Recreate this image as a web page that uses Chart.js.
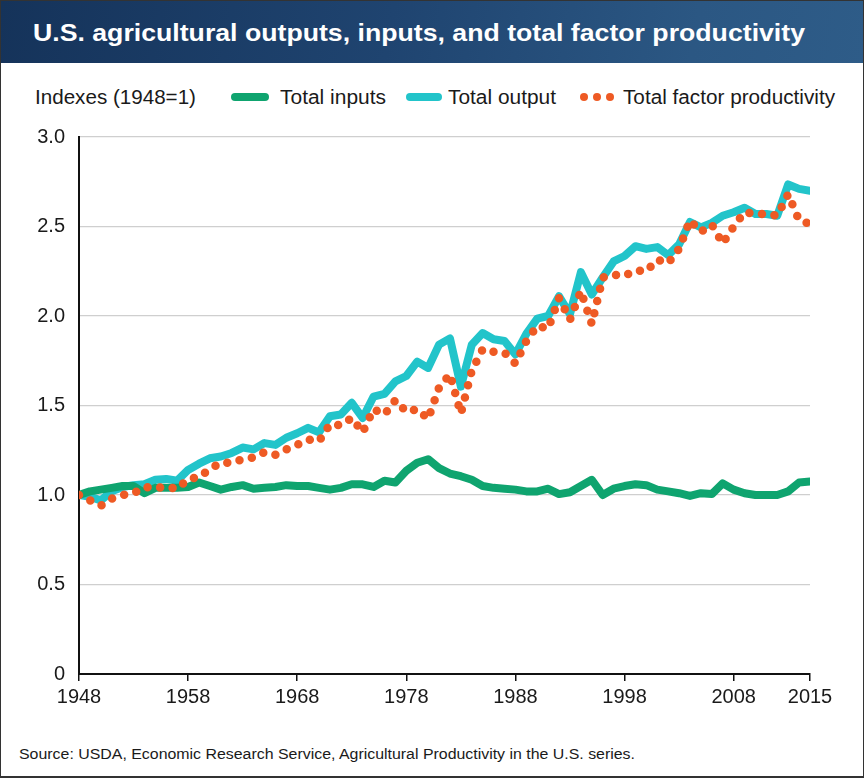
<!DOCTYPE html>
<html>
<head>
<meta charset="utf-8">
<script src="https://cdn.jsdelivr.net/npm/chart.js@4/dist/chart.umd.min.js"></script>
<style>
  body { margin: 0; background: #fff; }
  #frame {
    position: relative; width: 864px; height: 778px; overflow: hidden;
    box-sizing: border-box; border: 1px solid #333; border-bottom-width: 2px;
    font-family: "Liberation Sans", Arial, sans-serif; color: #1a1a1a;
  }
  #banner {
    position: absolute; left: 0; top: 0; width: 864px; height: 62px;
    background: linear-gradient(100deg, #15335a 0%, #1f4470 45%, #2b5783 80%, #2e5c88 100%);
  }
  .txt { position: absolute; white-space: nowrap; display: inline-block; transform-origin: 0 0; }
  #title { left: 32px; top: 20px; font: bold 24px/24px "Liberation Sans", Arial, sans-serif; color: #fff; }
  .leg { top: 86px; font-size: 20px; line-height: 20px; }
  #source { left: 18px; top: 745px; font-size: 15.5px; line-height: 15.5px; }
  .bar { position: absolute; height: 8px; border-radius: 4px; top: 92px; }
  .dot { position: absolute; width: 8px; height: 8px; border-radius: 50%; top: 92px; background: #ee5a24; }
  #wrap { position: absolute; left: 0; top: 110px; width: 864px; height: 615px; }
</style>
</head>
<body>
<div id="frame">
  <div id="banner"></div>
  <div id="title" class="txt" data-w="772">U.S. agricultural outputs, inputs, and total factor productivity</div>

  <div class="txt leg" style="left:34px" data-w="161">Indexes (1948=1)</div>
  <div class="bar" style="left:230px; width:38px; background:#0fa46f"></div>
  <div class="txt leg" style="left:279px" data-w="106">Total inputs</div>
  <div class="bar" style="left:405px; width:36px; background:#22c4ca"></div>
  <div class="txt leg" style="left:447px" data-w="108">Total output</div>
  <div class="dot" style="left:579px"></div>
  <div class="dot" style="left:592px"></div>
  <div class="dot" style="left:605px"></div>
  <div class="txt leg" style="left:622px" data-w="212">Total factor productivity</div>

  <div id="wrap"><canvas id="chart"></canvas></div>

  <div id="source" class="txt" data-w="616">Source: USDA, Economic Research Service, Agricultural Productivity in the U.S. series.</div>
</div>

<script>
// years 1948-2015
const years = [
  1948, 1949, 1950, 1951, 1952, 1953, 1954, 1955, 1956, 1957,
  1958, 1959, 1960, 1961, 1962, 1963, 1964, 1965, 1966, 1967,
  1968, 1969, 1970, 1971, 1972, 1973, 1974, 1975, 1976, 1977,
  1978, 1979, 1980, 1981, 1982, 1983, 1984, 1985, 1986, 1987,
  1988, 1989, 1990, 1991, 1992, 1993, 1994, 1995, 1996, 1997,
  1998, 1999, 2000, 2001, 2002, 2003, 2004, 2005, 2006, 2007,
  2008, 2009, 2010, 2011, 2012, 2013, 2014, 2015
];

const totalInputs = [
  1.00, 1.02, 1.03, 1.04, 1.05, 1.05, 1.01, 1.04, 1.04, 1.04,
  1.045, 1.07, 1.05, 1.03, 1.045, 1.055, 1.035, 1.04, 1.045, 1.055,
  1.05, 1.05, 1.04, 1.03, 1.04, 1.06, 1.06, 1.045, 1.08, 1.07,
  1.135, 1.18, 1.20, 1.15, 1.12, 1.105, 1.085, 1.05, 1.04, 1.035,
  1.03, 1.02, 1.02, 1.035, 1.005, 1.015, 1.05, 1.085, 1.00, 1.035,
  1.05, 1.06, 1.055, 1.03, 1.02, 1.01, 0.995, 1.01, 1.005, 1.065,
  1.03, 1.01, 1.00, 1.00, 1.00, 1.02, 1.07, 1.075
];

const totalOutput = [
  1.00, 0.99, 0.97, 1.02, 1.045, 1.055, 1.06, 1.085, 1.09, 1.08,
  1.14, 1.175, 1.205, 1.215, 1.235, 1.265, 1.255, 1.29, 1.28, 1.32,
  1.345, 1.375, 1.35, 1.44, 1.45, 1.515, 1.43, 1.55, 1.565, 1.635,
  1.665, 1.745, 1.71, 1.84, 1.875, 1.605, 1.84, 1.905, 1.87, 1.86,
  1.785, 1.90, 1.985, 2.00, 2.11, 2.01, 2.245, 2.12, 2.215, 2.305,
  2.335, 2.39, 2.375, 2.385, 2.34, 2.40, 2.525, 2.495, 2.52, 2.56,
  2.58, 2.605, 2.57, 2.57, 2.56, 2.735, 2.71, 2.70
];

const totalFactorProductivity = [
  1.00, 0.97, 0.94, 0.98, 1.00, 1.01, 1.045, 1.04, 1.045, 1.035,
  1.09, 1.10, 1.145, 1.18, 1.18, 1.20, 1.21, 1.24, 1.225, 1.255,
  1.28, 1.31, 1.30, 1.395, 1.39, 1.43, 1.35, 1.48, 1.45, 1.53,
  1.465, 1.48, 1.425, 1.60, 1.675, 1.455, 1.695, 1.815, 1.80, 1.795,
  1.735, 1.86, 1.945, 1.93, 2.10, 1.98, 2.14, 1.955, 2.215, 2.23,
  2.225, 2.255, 2.25, 2.315, 2.295, 2.375, 2.535, 2.47, 2.51, 2.405,
  2.50, 2.58, 2.57, 2.57, 2.56, 2.68, 2.535, 2.515
];

const xTickYears = [1948, 1958, 1968, 1978, 1988, 1998, 2008, 2015];
const yTicks = [0, 0.5, 1.0, 1.5, 2.0, 2.5, 3.0];

// squeeze the html text to the widths seen in the original
document.querySelectorAll('.txt').forEach(el => {
  let target = parseFloat(el.dataset.w);
  let w = el.getBoundingClientRect().width;
  if (w > 0) el.style.transform = `scaleX(${target / w})`;
});

const pts = vals => vals.map((v, i) => ({ x: years[i], y: v }));

const tickFont = { family: '"Liberation Sans", Arial, sans-serif', size: 20 };

const config = {
  type: 'line',
  data: {
    datasets: [
      {
        label: 'Total factor productivity',
        data: pts(totalFactorProductivity),
        borderColor: '#ee5a24',
        borderWidth: 8.5,
        borderDash: [0, 12.6],
        borderCapStyle: 'round',
        borderJoinStyle: 'round',
        pointRadius: 0,
        tension: 0,
        order: 1
      },
      {
        label: 'Total inputs',
        data: pts(totalInputs),
        borderColor: '#0fa46f',
        borderWidth: 8,
        borderCapStyle: 'round',
        borderJoinStyle: 'round',
        pointRadius: 0,
        tension: 0,
        order: 2
      },
      {
        label: 'Total output',
        data: pts(totalOutput),
        borderColor: '#22c4ca',
        borderWidth: 8,
        borderCapStyle: 'round',
        borderJoinStyle: 'round',
        pointRadius: 0,
        tension: 0,
        order: 3
      }
    ]
  },
  options: {
    responsive: true,
    maintainAspectRatio: false,
    animation: false,
    layout: { padding: { top: 12, right: 55, left: 0, bottom: 0 } },
    plugins: {
      legend: { display: false },
      tooltip: { enabled: false }
    },
    scales: {
      x: {
        type: 'linear',
        min: 1948,
        max: 2015,
        afterBuildTicks: axis => { axis.ticks = xTickYears.map(v => ({ value: v })); },
        afterFit: axis => { axis.height = 52; },
        border: { display: true, color: '#111', width: 2 },
        grid: { drawOnChartArea: false, drawTicks: true, tickLength: 7, color: '#111', lineWidth: 1.5 },
        ticks: {
          autoSkip: false,
          maxRotation: 0,
          padding: 4,
          color: '#1a1a1a',
          font: tickFont,
          callback: v => String(v)
        }
      },
      y: {
        min: 0,
        max: 3,
        afterBuildTicks: axis => { axis.ticks = yTicks.map(v => ({ value: v })); },
        afterFit: axis => { axis.width = 78; },
        border: { display: true, color: '#111', width: 2 },
        grid: {
          drawTicks: false,
          color: ctx => ctx.tick && ctx.tick.value === 0 ? 'rgba(0,0,0,0)' : '#cfcfcf',
          lineWidth: 1.2
        },
        ticks: {
          padding: 14,
          color: '#1a1a1a',
          font: tickFont,
          callback: v => v === 0 ? '0' : v.toFixed(1)
        }
      }
    }
  }
};

const chart = new Chart(document.getElementById('chart'), config);
</script>
</body>
</html>
